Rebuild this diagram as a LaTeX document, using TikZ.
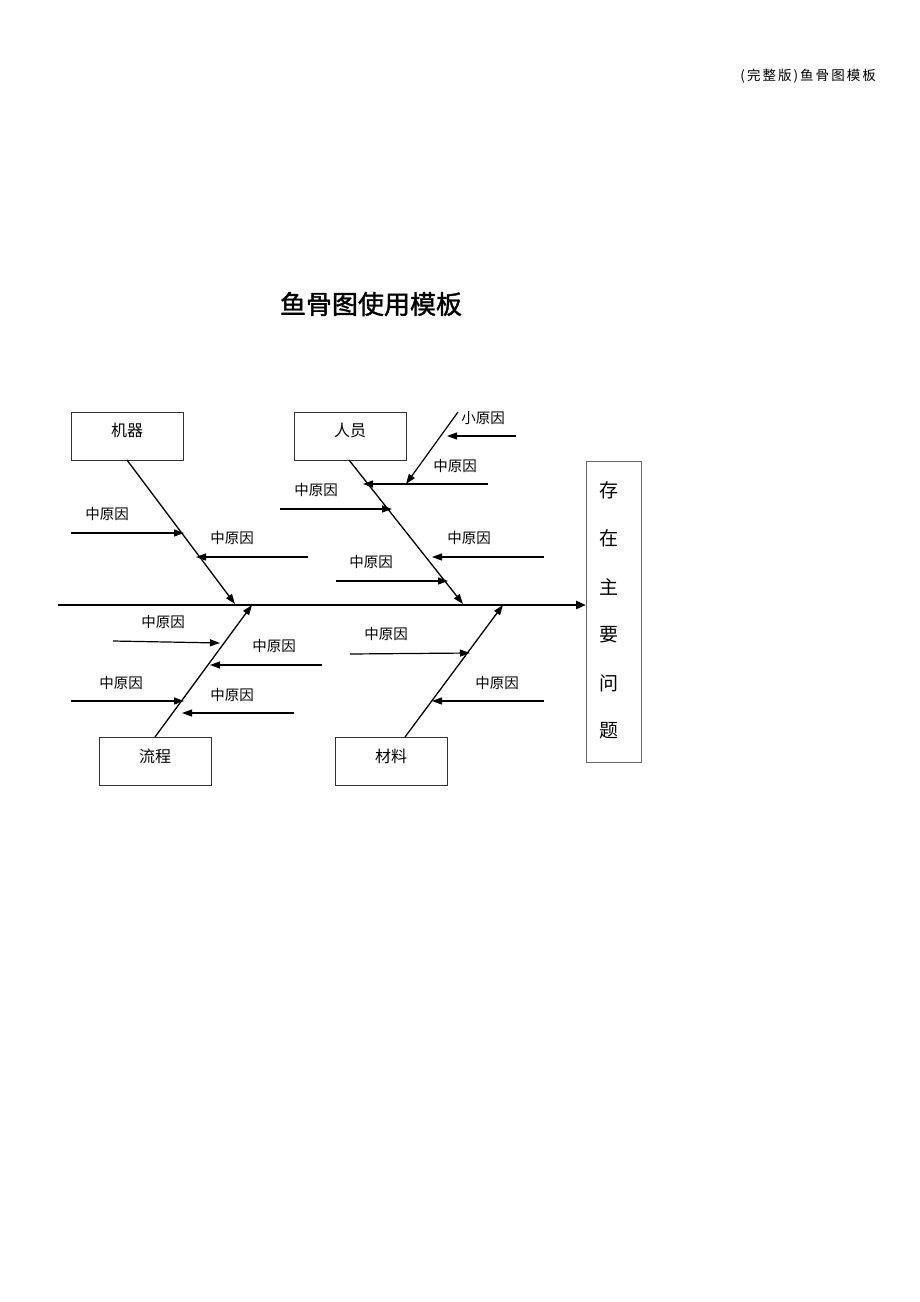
\documentclass[tikz,border=0pt]{standalone}
\usepackage{fontspec}
\setmainfont{Noto Sans CJK SC}
\usetikzlibrary{arrows.meta}
\begin{document}
\begin{tikzpicture}[x=1pt,y=-1pt,
  catbox/.style={draw=black!80,line width=0.8pt,minimum width=112pt,minimum height=48pt,inner sep=0pt,font=\fontsize{16}{19}\selectfont,text depth=0pt},
  bone/.style={line width=1.3pt,-{Triangle[length=10pt,width=7pt]}},
  sub/.style={line width=1.2pt,-{Triangle[length=10pt,width=7pt]}},
  lbl/.style={font=\fontsize{14.5}{17}\selectfont,inner sep=0pt},
  spine/.style={line width=2.6pt,-{Triangle[length=10pt,width=8pt]}}]
\useasboundingbox (0,0) rectangle (920,1302);
\fill[white] (0,0) rectangle (920,1302);
% header and title
\node[anchor=east,font=\fontsize{13.5}{15}\selectfont\addfontfeature{LetterSpace=15},inner sep=0pt] (hdr) at (876,76) {(完整版)鱼骨图模板};
\node[font=\fontsize{26}{30}\selectfont\addfontfeature{FakeBold=1.5},inner sep=0pt] (title) at (371,304) {鱼骨图使用模板};
% boxes
\node[catbox,anchor=north west] (jq) at (71,412) {};
\node[lbl,font=\fontsize{16}{19}\selectfont] (jqt) at (127,430) {机器};
\node[catbox,anchor=north west] (ry) at (294,412) {};
\node[lbl,font=\fontsize{16}{19}\selectfont] (ryt) at (350,430) {人员};
\node[catbox,anchor=north west] (lc) at (99,737) {};
\node[lbl,font=\fontsize{16}{19}\selectfont] (lct) at (155,756) {流程};
\node[catbox,anchor=north west] (cl) at (335,737) {};
\node[lbl,font=\fontsize{16}{19}\selectfont] (clt) at (391,756) {材料};
\node[draw=black!60,line width=0.8pt,anchor=north west,minimum width=55pt,minimum height=301pt,inner sep=0pt] (res) at (586,461) {};
\foreach \c/\y [count=\i] in {存/490,在/538,主/587,要/635,问/683,题/731}
  \node[lbl,font=\fontsize{19}{22}\selectfont] (r\i) at (609,\y) {\c};
% spine
\coordinate (tail) at (58,605);
\draw[spine] (tail) -- (res.west |- tail);
% bone endpoints
\coordinate (jqs) at (127,460); \coordinate (jqe) at (235,604);
\coordinate (rys) at (349,460); \coordinate (rye) at (463,604);
\coordinate (lcs) at (155,737); \coordinate (lce) at (252,605);
\coordinate (cls) at (405,737); \coordinate (cle) at (503,605);
\draw[bone] (jqs) -- (jqe);
\draw[bone] (rys) -- (rye);
\draw[bone] (lcs) -- (lce);
\draw[bone] (cls) -- (cle);
% 机器 causes
\coordinate (a1s) at (71,533); \coordinate (a1e) at (184,533);
\draw[sub] (a1s) -- (a1e);
\node[lbl] (a1l) at (107,514) {中原因};
\coordinate (a2s) at (308,557); \coordinate (a2e) at (196,557);
\draw[sub] (a2s) -- (a2e);
\node[lbl] (a2l) at (232,538) {中原因};
% 人员 causes
\coordinate (b1s) at (280,509); \coordinate (b1e) at (392,509);
\draw[sub] (b1s) -- (b1e);
\node[lbl] (b1l) at (316,490) {中原因};
\coordinate (b2s) at (488,484); \coordinate (b2e) at (363,484);
\draw[sub] (b2s) -- (b2e);
\node[lbl] (b2l) at (455,466) {中原因};
\coordinate (b3s) at (458,412); \coordinate (b3e) at (406,484);
\draw[sub] (b3s) -- (b3e);
\node[lbl] (b3l) at (483,418) {小原因};
\coordinate (b4s) at (516,436); \coordinate (b4e) at (447,436);
\draw[sub] (b4s) -- (b4e);
\coordinate (b5s) at (544,557); \coordinate (b5e) at (432,557);
\draw[sub] (b5s) -- (b5e);
\node[lbl] (b5l) at (469,538) {中原因};
\coordinate (b6s) at (336,581); \coordinate (b6e) at (448,581);
\draw[sub] (b6s) -- (b6e);
\node[lbl] (b6l) at (371,562) {中原因};
% 流程 causes
\coordinate (c1s) at (113,641); \coordinate (c1e) at (220,643);
\draw[sub] (c1s) -- (c1e);
\node[lbl] (c1l) at (163,622) {中原因};
\coordinate (c2s) at (322,665); \coordinate (c2e) at (210,665);
\draw[sub] (c2s) -- (c2e);
\node[lbl] (c2l) at (274,646) {中原因};
\coordinate (c3s) at (71,701); \coordinate (c3e) at (184,701);
\draw[sub] (c3s) -- (c3e);
\node[lbl] (c3l) at (121,683) {中原因};
\coordinate (c4s) at (294,713); \coordinate (c4e) at (182,713);
\draw[sub] (c4s) -- (c4e);
\node[lbl] (c4l) at (232,695) {中原因};
% 材料 causes
\coordinate (d1s) at (350,654); \coordinate (d1e) at (470,653);
\draw[sub] (d1s) -- (d1e);
\node[lbl] (d1l) at (386,634) {中原因};
\coordinate (d2s) at (544,701); \coordinate (d2e) at (432,701);
\draw[sub] (d2s) -- (d2e);
\node[lbl] (d2l) at (497,683) {中原因};
\end{tikzpicture}
\end{document}
